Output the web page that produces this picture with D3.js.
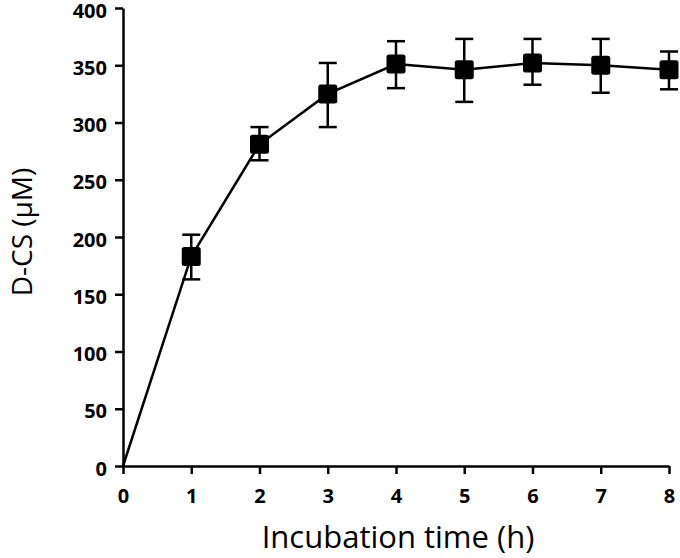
<!DOCTYPE html>
<html><head><meta charset="utf-8">
<script src="https://cdn.jsdelivr.net/npm/d3@7"></script>
<style>body{margin:0;background:#fff}svg{display:block}</style>
</head><body>
<script>
const hours = [0, 1, 2, 3, 4, 5, 6, 7, 8];
const dcs = [0, 183, 281, 325, 351, 346, 352, 350, 346];
const errUpper = [null, 202, 296, 352, 371, 373, 373, 373, 362];
const errLower = [null, 163, 267, 296, 330, 318, 333, 326, 329];
const xTicks = [0, 1, 2, 3, 4, 5, 6, 7, 8];
const yTicks = [0, 50, 100, 150, 200, 250, 300, 350, 400];

const W = 680, H = 558;
const svg = d3.select("body").append("svg").attr("width", W).attr("height", H);
const x = d3.scaleLinear().domain([0, 8]).range([123, 669]);
const y = d3.scaleLinear().domain([0, 400]).range([466, 8]);

const xAxis = svg.append("g").attr("transform", `translate(0,${y(0)})`)
  .call(d3.axisBottom(x).tickValues(xTicks).tickSize(8).tickSizeOuter(0).tickPadding(15).tickFormat(d3.format("d")));
const yAxis = svg.append("g").attr("transform", `translate(${x(0)},0)`)
  .call(d3.axisLeft(y).tickValues(yTicks).tickSize(8).tickSizeOuter(0).tickPadding(8).tickFormat(d3.format("d")));
[xAxis, yAxis].forEach(a => {
  a.select(".domain").attr("stroke", "#000").attr("stroke-width", 2.5);
  a.selectAll(".tick line").attr("stroke", "#000").attr("stroke-width", 2.5);
  a.selectAll(".tick text").attr("fill", "#000")
    .style("font-family", "'Open Sans', sans-serif").style("font-weight", "bold").style("font-size", "20px");
});
yAxis.selectAll(".tick text").attr("dy", "0.45em");

const pts = hours.map((h, i) => ({h, v: dcs[i], hi: errUpper[i], lo: errLower[i]}));
svg.append("path").datum(pts)
  .attr("fill", "none").attr("stroke", "#000").attr("stroke-width", 2.5)
  .attr("d", d3.line().x(d => x(d.h)).y(d => y(d.v)));

const eb = pts.filter(d => d.hi !== null);
const g = svg.append("g");
g.selectAll(".ev").data(eb).join("line")
  .attr("x1", d => x(d.h)).attr("x2", d => x(d.h))
  .attr("y1", d => y(d.hi)).attr("y2", d => y(d.lo))
  .attr("stroke", "#000").attr("stroke-width", 2.5);
g.selectAll(".ct").data(eb).join("line")
  .attr("x1", d => x(d.h) - 9).attr("x2", d => x(d.h) + 9)
  .attr("y1", d => y(d.hi)).attr("y2", d => y(d.hi))
  .attr("stroke", "#000").attr("stroke-width", 2.5);
g.selectAll(".cb").data(eb).join("line")
  .attr("x1", d => x(d.h) - 9).attr("x2", d => x(d.h) + 9)
  .attr("y1", d => y(d.lo)).attr("y2", d => y(d.lo))
  .attr("stroke", "#000").attr("stroke-width", 2.5);
g.selectAll("rect").data(eb).join("rect")
  .attr("x", d => x(d.h) - 9.5).attr("y", d => y(d.v) - 9.5)
  .attr("width", 19).attr("height", 19).attr("rx", 2.5)
  .attr("fill", "#000");

svg.append("text").attr("x", 398).attr("y", 548).attr("text-anchor", "middle")
  .style("font-family", "'Open Sans', sans-serif").style("font-size", "31px").attr("fill", "#000")
  .text("Incubation time (h)");
svg.append("text").attr("transform", "translate(32,232) rotate(-90)").attr("text-anchor", "middle")
  .style("font-family", "'Open Sans', sans-serif").style("font-size", "28px").attr("fill", "#000")
  .text("D-CS (μM)");
</script>
</body></html>
